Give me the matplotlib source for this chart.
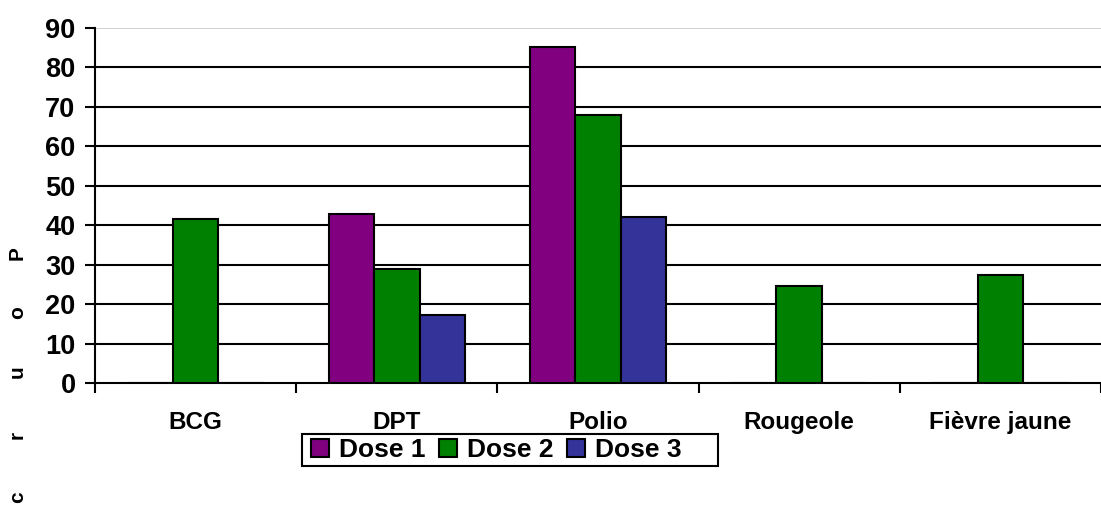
import numpy as np
import matplotlib
matplotlib.use('Agg')
import matplotlib.pyplot as plt
from matplotlib.patches import Rectangle

plt.rcParams['font.family'] = ['Liberation Sans', 'DejaVu Sans']
plt.rcParams['font.weight'] = 'bold'

# data
categories = ['BCG', 'DPT', 'Polio', 'Rougeole', 'Fièvre jaune']
series = ['Dose 1', 'Dose 2', 'Dose 3']
dose1 = [np.nan, 42.8, 85.3, np.nan, np.nan]
dose2 = [41.6, 29.0, 67.9, 24.5, 27.5]
dose3 = [np.nan, 17.3, 42.1, np.nan, np.nan]
colors = ['#800080', '#008000', '#333399']
yticks = [0, 10, 20, 30, 40, 50, 60, 70, 80, 90]
ylabel_letters = ['P', 'o', 'u', 'r', 'c']

W, H = 1101, 505
fig = plt.figure(figsize=(W / 100, H / 100), dpi=100)
ax = fig.add_axes([95 / W, 1 - 383 / H, (W - 95) / W, 355 / H])

x = np.arange(len(categories))
bw = 0.226
single = [np.isnan(a) and np.isnan(c) for a, c in zip(dose1, dose3)]
for i, (vals, name, col) in enumerate(zip([dose1, dose2, dose3], series, colors)):
    offs = np.array([(i - 1) * bw for _ in x])
    if i == 1:
        offs = np.where(single, 0.0, offs)
    ax.bar(x + offs, np.nan_to_num(vals), width=bw, color=col, edgecolor='black',
           linewidth=1.5, label=name, zorder=3)

ax.set_xlim(-0.5, -0.5 + (W - 95) / 203.5)
ax.set_ylim(0, 90)
ax.set_yticks(yticks)
ax.set_yticklabels([str(v) for v in yticks], fontsize=19.5, fontweight='bold')
ax.set_xticks(np.arange(-0.5, len(categories), 1.0))
ax.set_xticklabels([])
ax.set_xticks(x, minor=True)
ax.set_xticklabels(categories, minor=True, fontsize=17.5, fontweight='bold')
ax.tick_params(axis='x', which='minor', length=0, pad=20)
ax.tick_params(axis='x', which='major', length=7, width=1.5, direction='out')
ax.tick_params(axis='y', length=7, width=1.5, direction='out', pad=7)

for v in yticks[1:-1]:
    ax.axhline(v, color='black', linewidth=1.5, zorder=1)
ax.axhline(90, color='#c8c8c8', linewidth=1.2, zorder=1)

for s in ['top', 'right']:
    ax.spines[s].set_visible(False)
ax.spines['left'].set_linewidth(1.5)
ax.spines['bottom'].set_linewidth(1.5)

# y label drawn as separate rotated letters
for letter, yp in zip(ylabel_letters, [253, 313, 372, 435, 497]):
    fig.text(17.5 / W, 1 - yp / H, letter, rotation=90, fontsize=15, fontweight='bold',
             ha='center', va='center')

# legend without its own frame; frame drawn as a figure rectangle
leg = ax.legend(loc='center left', bbox_to_anchor=(311 / W, 1 - 450 / H),
                bbox_transform=fig.transFigure, ncol=3,
                prop={'weight': 'bold', 'size': 19}, frameon=False,
                handlelength=0.67, handleheight=0.67, handletextpad=0.38,
                columnspacing=0.53, borderpad=0, borderaxespad=0)
for h in leg.legend_handles:
    h.set_linewidth(1.5)
fig.patches.append(Rectangle((302 / W, 1 - 466 / H), 416 / W, 32 / H,
                             transform=fig.transFigure, fill=False,
                             edgecolor='black', linewidth=1.5))

fig.savefig('out.png', dpi=100)
